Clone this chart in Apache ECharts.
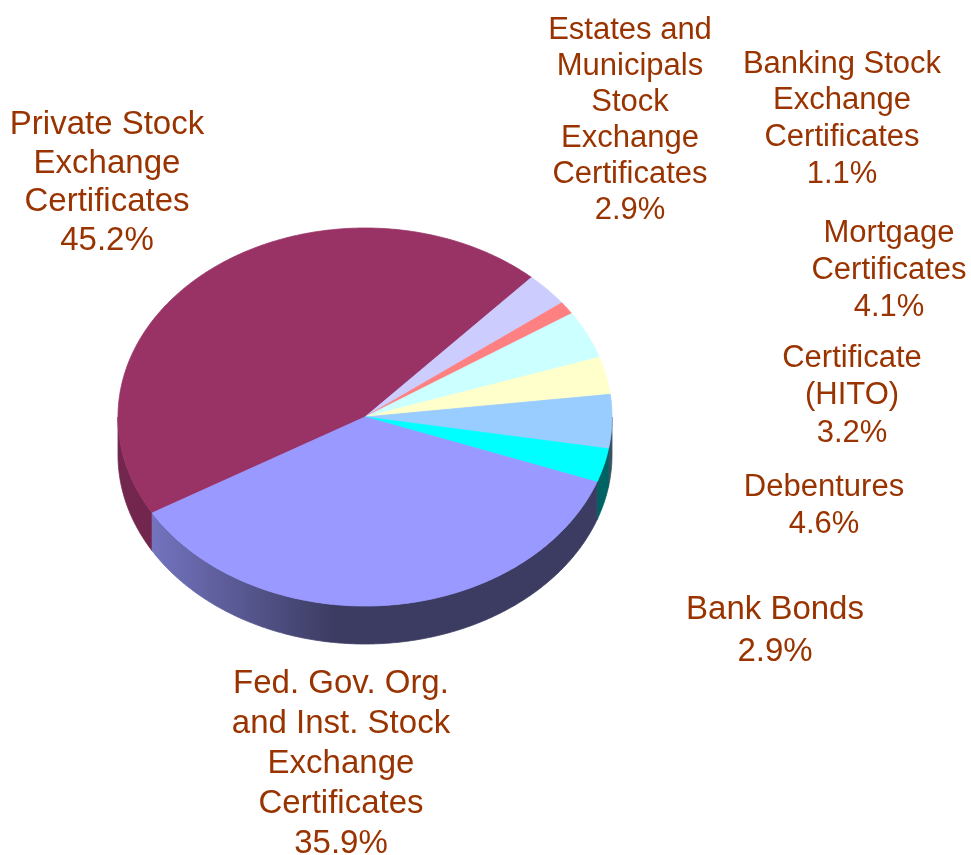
<!DOCTYPE html>
<html>
<head>
<meta charset="utf-8">
<script src="https://cdn.jsdelivr.net/npm/echarts@6/dist/echarts.min.js"></script>
<style>
  html, body { margin: 0; padding: 0; background: #ffffff; }
  #chart { width: 971px; height: 855px; }
</style>
</head>
<body>
<div id="chart"></div>
<script>
// slice names and shares (percent), clockwise from the Private / Fed. Gov. border
const categories = [
  'Private Stock\nExchange\nCertificates',
  'Estates and\nMunicipals\nStock\nExchange\nCertificates',
  'Banking Stock\nExchange\nCertificates',
  'Mortgage\nCertificates',
  'Certificate\n(HITO)',
  'Debentures',
  'Bank Bonds',
  'Fed. Gov. Org.\nand Inst. Stock\nExchange\nCertificates'
]
const shares = [45.2, 2.9, 1.1, 4.1, 3.2, 4.6, 2.9, 35.9]
const sliceColors = ['#993366', '#CCCCFF', '#FF8080', '#CCFFFF', '#FFFFCC', '#99CCFF', '#00FFFF', '#9999FF']

// label placement: [centre x, first line centre y, line height, font size]
const labelLayout = [
  [107, 125, 38.5, 33],
  [630, 30.5, 36, 31],
  [842, 64, 36.7, 31],
  [889, 233, 37, 31],
  [852, 358, 37.5, 31],
  [824, 487, 37.5, 31],
  [775, 610, 41.5, 33],
  [341, 684, 40, 33]
]

// pie geometry (tilted disc)
const CX = 365
const CY = 417
const RX = 247
const RY = 189
const DEPTH = 38
const START = 149.5 // degrees, screen clockwise from +x

const total = shares.reduce((a, b) => a + b, 0)

function pt(deg, dy) {
  const r = deg * Math.PI / 180
  return [CX + RX * Math.cos(r), CY + RY * Math.sin(r) + (dy || 0)]
}

function shade(hex, f) {
  const n = parseInt(hex.slice(1), 16)
  const c = [(n >> 16) & 255, (n >> 8) & 255, n & 255].map(v => Math.round(v * f))
  return 'rgb(' + c.join(',') + ')'
}

// side lit from the left: brighter at the left edge, dark towards the front/right
function sideFill(hex) {
  return {
    type: 'linear',
    x: CX - RX, y: 0, x2: CX + RX, y2: 0,
    global: true,
    colorStops: [
      { offset: 0, color: shade(hex, 0.76) },
      { offset: 0.07, color: shade(hex, 0.75) },
      { offset: 0.435, color: shade(hex, 0.39) },
      { offset: 1, color: shade(hex, 0.39) }
    ]
  }
}

function arcPoints(a0, a1, dy) {
  const pts = []
  const steps = Math.max(2, Math.ceil((a1 - a0) / 0.5))
  for (let s = 0; s <= steps; s++) {
    pts.push(pt(a0 + (a1 - a0) * s / steps, dy))
  }
  return pts
}

function renderItem(params, api) {
  const i = params.dataIndex
  let before = 0
  for (let j = 0; j < i; j++) before += shares[j]
  const a0 = START + before / total * 360
  const a1 = a0 + api.value(0) / total * 360
  const color = sliceColors[i]
  const children = []

  // visible front wall (angles 0..180 in screen terms)
  ;[-360, 0, 360].forEach(k => {
    const s = Math.max(a0, k)
    const e = Math.min(a1, k + 180)
    if (e > s) {
      const pts = arcPoints(s, e, 0).concat(arcPoints(s, e, DEPTH).reverse())
      const fill = sideFill(color)
      children.push({
        type: 'polygon',
        shape: { points: pts },
        style: { fill: fill, stroke: fill, lineWidth: 0.8 }
      })
    }
  })

  // top face
  const top = [[CX, CY]].concat(arcPoints(a0, a1, 0))
  children.push({
    type: 'polygon',
    shape: { points: top },
    style: { fill: color, stroke: color, lineWidth: 0.8 }
  })

  // label
  const lay = labelLayout[i]
  children.push({
    type: 'text',
    style: {
      text: categories[i] + '\n' + api.value(0).toFixed(1) + '%',
      x: lay[0],
      y: lay[1] - lay[2] / 2,
      align: 'center',
      verticalAlign: 'top',
      lineHeight: lay[2],
      fill: '#993300',
      font: lay[3] + 'px "Liberation Sans", Arial, sans-serif'
    }
  })

  return { type: 'group', children: children }
}

const chart = echarts.init(document.getElementById('chart'))
chart.setOption({
  animation: false,
  backgroundColor: '#ffffff',
  series: [
    {
      type: 'custom',
      coordinateSystem: 'none',
      silent: true,
      renderItem: renderItem,
      data: shares.map((v, i) => ({ value: v, name: categories[i] }))
    }
  ]
})
</script>
</body>
</html>
